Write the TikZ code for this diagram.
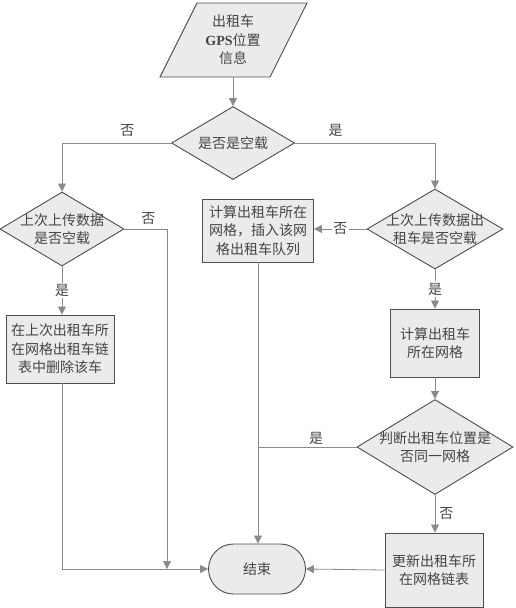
\documentclass[tikz,border=0pt]{standalone}
\usepackage{fontspec}
\setmainfont{Noto Sans CJK SC}
\newfontfamily\latinserif{Liberation Serif}
\usepackage{tikz}
\usetikzlibrary{arrows.meta,calc,positioning,shapes.geometric}
\definecolor{linegray}{HTML}{8A8A8A}
\definecolor{edgegray}{HTML}{4D4D4D}
\definecolor{fillgray}{HTML}{EBEBEB}
\definecolor{textgray}{HTML}{454545}

\begin{document}
\begin{tikzpicture}[x=1pt,y=-1pt,
  font=\fontsize{14}{18.5}\selectfont,text=textgray,
  proc/.style={draw=edgegray,fill=fillgray,line width=0.9pt,align=center,inner sep=0pt},
  dec/.style={diamond,draw=edgegray,fill=fillgray,line width=0.9pt,inner sep=0pt},
  flow/.style={draw=linegray,line width=0.8pt},
  arr/.style={flow,-{Triangle[length=8pt,width=8pt]}},
  midlab/.style={fill=white,inner sep=1.5pt},
  toplab/.style={inner sep=1pt}]
\useasboundingbox (0,0) rectangle (515,608);
\draw[edgegray,fill=fillgray,line width=0.9pt] (160,77)--(197,3)--(307,3)--(270,77)--cycle;
\node[align=center,inner sep=0pt] (gps) at (233,40) {出租车\\{\latinserif\bfseries GPS}位置\\信息};
\coordinate (gpsout) at (233,77);
\node[dec,minimum width=123pt,minimum height=73pt,label={center:是否是空载}] (d1) at (233,143) {};
\node[dec,minimum width=124pt,minimum height=74pt,label={[align=center]center:上次上传数据\\是否空载}] (d2) at (62,229) {};
\node[proc,minimum width=108pt,minimum height=68pt] (del) at (60,349) {在上次出租车所\\在网格出租车链\\表中删除该车};
\node[proc,minimum width=111pt,minimum height=63pt] (ins) at (258,230.5) {计算出租车所在\\网格，插入该网\\格出租车队列};
\node[dec,minimum width=136pt,minimum height=80pt,label={[align=center]center:上次上传数据出\\租车是否空载}] (d3) at (435,229) {};
\node[proc,minimum width=89pt,minimum height=68pt] (calc) at (435,343) {计算出租车\\所在网格};
\node[dec,minimum width=156pt,minimum height=95pt,label={[align=center]center:判断出租车位置是\\否同一网格}] (d4) at (435,447) {};
\node[proc,minimum width=98pt,minimum height=74pt] (upd) at (434,570) {更新出租车所\\在网格链表};
\node[proc,rounded corners=25pt,minimum width=97pt,minimum height=50pt] (end) at (257,569) {结束};
\coordinate (j1) at (167,569);
\draw[arr] (gpsout) -- (d1.north);
\draw[arr] (d1.west) -| node[toplab,above=5pt,pos=0.2]{否} (d2.north);
\draw[arr] (d1.east) -| node[toplab,above=5pt,pos=0.145]{是} (d3.north);
\draw[arr] (d2.east) -| node[toplab,above=3pt,pos=0.28]{否} (j1);
\draw[arr] (d2.south) -- node[midlab]{是} (d2.south |- del.north);
\draw[arr] (del.south -| d2.south) |- (end.west);
\draw[arr] (ins.south) -- (ins.south |- end.north);
\draw[arr] (d3.west) -- node[midlab]{否} (ins.east |- d3.west);
\draw[arr] (d3.south) -- node[midlab]{是} (calc.north);
\draw[arr] (calc.south) -- (d4.north);
\draw[flow] (d4.west) -- node[toplab,above=1pt,pos=0.41]{是} (ins.south |- d4.west);
\draw[arr] (d4.south) -- node[toplab,right=3pt]{否} (d4.south |- upd.north);
\draw[arr] (upd.west) -- (end.east);
\end{tikzpicture}
\end{document}
